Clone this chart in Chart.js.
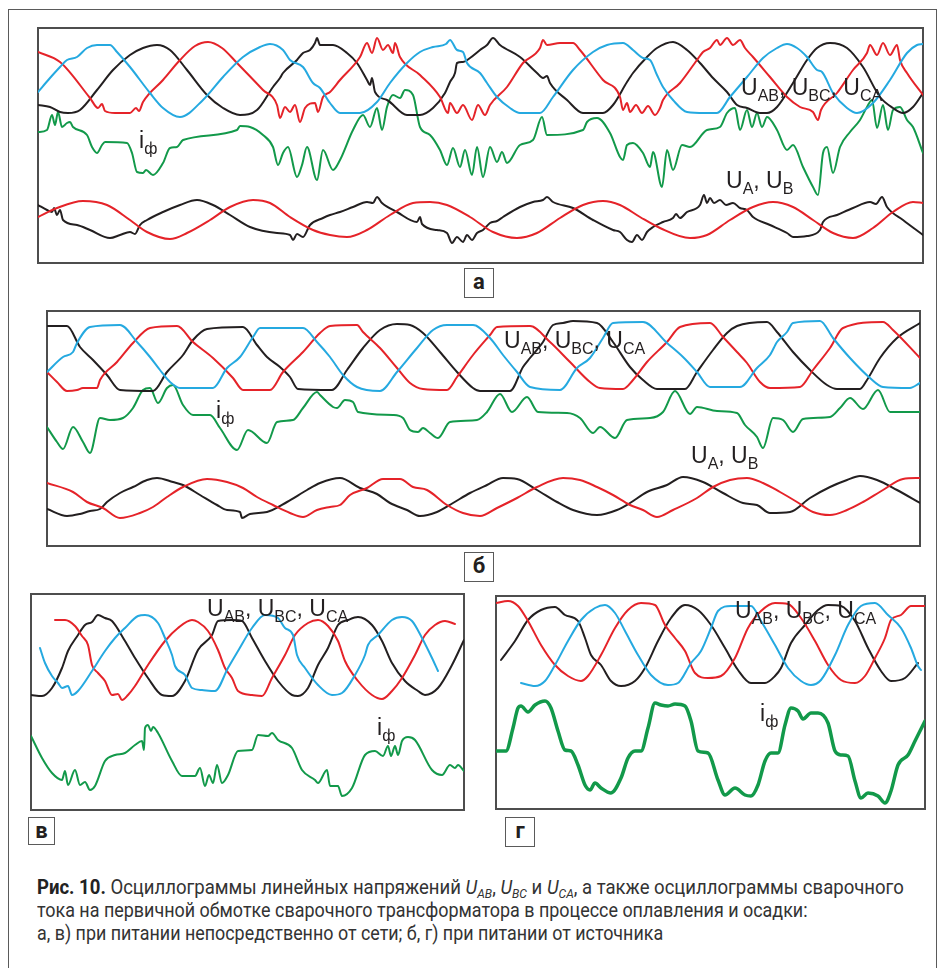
<!DOCTYPE html>
<html>
<head>
<meta charset="utf-8">
<script src="https://cdn.jsdelivr.net/npm/chart.js@4"></script>
<style>
body{margin:0;background:#fff;width:944px;height:968px;position:relative;overflow:hidden;font-family:'Liberation Sans',Arial,sans-serif;}
.frame{position:absolute;left:8px;top:9px;width:929px;height:1000px;border:1.5px solid #5a5a5a;box-sizing:border-box}
.panel{position:absolute;border:2px solid #4d4d4d;box-sizing:border-box}
.panel canvas{position:absolute;left:-1px;top:-1px}
.lbl{position:absolute;font-size:23px;line-height:22px;color:#231f20;white-space:nowrap}
.lbl sub{font-size:16px;vertical-align:-6px;line-height:0}
.tag{position:absolute;width:30px;height:30px;border:1.5px solid #5a5a5a;box-sizing:border-box;font:bold 22px Roboto,sans-serif;line-height:25px;text-align:center;color:#231f20}
.cap{position:absolute;left:37px;font-family:Roboto,sans-serif;font-size:20px;line-height:20px;color:#333;white-space:nowrap;transform-origin:0 0}
.cap b{color:#222}
.cap sub{font-size:13px;vertical-align:-4px;line-height:0}
</style>
</head>
<body>
<div class="frame"></div>

<div class="panel" style="left:37px;top:27px;width:887px;height:237px"><canvas id="pa" width="885" height="235"></canvas></div>
<div class="panel" style="left:46px;top:310px;width:875px;height:237px"><canvas id="pb" width="873" height="235"></canvas></div>
<div class="panel" style="left:30px;top:593px;width:435px;height:218px"><canvas id="pc" width="433" height="216"></canvas></div>
<div class="panel" style="left:495px;top:595px;width:431px;height:215px"><canvas id="pd" width="429" height="213"></canvas></div>

<div class="lbl" style="left:139px;top:129px">i<sub>ф</sub></div>
<div class="lbl" style="left:741px;top:76px">U<sub>AB</sub>, U<sub>BC</sub>, U<sub>CA</sub></div>
<div class="lbl" style="left:726px;top:169px">U<sub>A</sub>, U<sub>B</sub></div>

<div class="lbl" style="left:216px;top:399px">i<sub>ф</sub></div>
<div class="lbl" style="left:504px;top:329px">U<sub>AB</sub>, U<sub>BC</sub>, U<sub>CA</sub></div>
<div class="lbl" style="left:691px;top:444px">U<sub>A</sub>, U<sub>B</sub></div>

<div class="lbl" style="left:207px;top:597px">U<sub>AB</sub>, U<sub>BC</sub>, U<sub>CA</sub></div>
<div class="lbl" style="left:377px;top:716px">i<sub>ф</sub></div>

<div class="lbl" style="left:735px;top:599px">U<sub>AB</sub>, U<sub>BC</sub>, U<sub>CA</sub></div>
<div class="lbl" style="left:760px;top:702px">i<sub>ф</sub></div>

<div class="tag" style="left:464px;top:268px">а</div>
<div class="tag" style="left:464px;top:552px">б</div>
<div class="tag" style="left:28px;top:817px;width:27px;height:28px">в</div>
<div class="tag" style="left:505px;top:817px">г</div>

<div class="cap" data-w="867" style="top:877px"><b>Рис. 10.</b> Осциллограммы линейных напряжений <i>U<sub>AB</sub></i>, <i>U<sub>BC</sub></i> и <i>U<sub>CA</sub></i>, а также осциллограммы сварочного</div>
<div class="cap" data-w="771" style="top:900px">тока на первичной обмотке сварочного трансформатора в процессе оплавления и осадки:</div>
<div class="cap" data-w="626" style="top:923px">а, в) при питании непосредственно от сети; б, г) при питании от источника</div>

<script>
// colours of the oscilloscope traces
const RED = '#e52329', BLUE = '#25a9e0', BLACK = '#231f20', GREEN = '#12994a';

// panel а : time (sample) , level  -- pairs t,v
const aLineRed = [0,211, 22,201, 52,165, 60,155, 64,159, 67,152, 77,150, 92,150, 98,155, 101,152, 105,161, 125,183, 142,203, 157,217, 170,221, 184,215, 199,200, 225,173, 239,158, 242,145, 247,156, 252,151, 257,158, 262,141, 267,155, 277,160, 280,151, 285,166, 292,171, 302,183, 322,206, 329,220, 334,210, 339,225, 345,213, 350,218, 355,210, 357,220, 362,206, 382,188, 402,166, 410,150, 412,160, 419,150, 425,158, 434,143, 440,158, 447,148, 452,158, 469,176, 485,200, 502,215, 505,223, 509,218, 522,220, 535,220, 542,213, 565,183, 582,166, 585,153, 589,160, 592,151, 598,158, 604,150, 610,157, 617,148, 622,155, 625,163, 642,180, 659,203, 665,211, 672,215, 679,223, 682,218, 689,225, 695,218, 702,223, 707,215, 715,206, 732,186, 749,166, 762,156, 775,151, 780,143, 783,153, 799,170, 815,193, 829,210, 832,218, 839,208, 845,220, 852,208, 859,218, 862,203, 869,190, 885,168];
const aLineBlue = [0,171, 12,185, 22,196, 29,203, 39,206, 49,215, 59,218, 72,218, 79,211, 92,196, 112,170, 125,155, 142,146, 165,163, 185,186, 205,206, 222,216, 232,219, 245,213, 252,203, 265,196, 275,180, 282,175, 292,160, 302,150, 322,150, 339,161, 352,180, 369,200, 382,211, 395,216, 408,219, 412,223, 419,213, 425,211, 429,200, 442,190, 449,180, 459,166, 472,155, 482,150, 502,150, 515,166, 535,193, 555,211, 569,218, 585,220, 595,213, 605,205, 612,203, 619,188, 625,176, 635,163, 649,151, 667,150, 679,150, 692,166, 709,186, 725,205, 739,215, 749,219, 759,215, 769,206, 779,193, 784,191, 795,170, 809,155, 819,150, 835,160, 852,183, 869,210, 879,218, 885,219];
const aLineBlack = [0,158, 12,156, 22,151, 30,150, 42,153, 59,173, 75,193, 92,208, 105,215, 119,218, 132,213, 149,193, 169,168, 185,155, 202,148, 219,153, 235,176, 242,185, 245,190, 259,203, 265,210, 272,213, 277,220, 279,225, 282,218, 295,218, 309,210, 319,200, 329,183, 332,178, 334,185, 337,171, 349,163, 369,148, 382,148, 395,155, 407,170, 412,181, 417,190, 419,200, 425,201, 432,205, 442,213, 449,218, 455,225, 462,218, 482,206, 499,190, 505,185, 509,187, 512,180, 529,163, 545,150, 565,150, 575,158, 589,181, 595,190, 609,206, 619,215, 635,221, 649,213, 662,200, 675,185, 689,171, 699,158, 709,155, 722,150, 729,150, 739,156, 755,180, 769,203, 779,215, 792,220, 809,215, 825,196, 842,166, 855,155, 865,150, 875,156, 885,170];
const aCurrent = [0,131, 9,133, 14,148, 17,138, 20,151, 24,136, 29,140, 32,141, 35,136, 49,128, 54,116, 59,110, 64,118, 67,121, 89,120, 94,110, 99,91, 105,90, 108,93, 115,88, 125,100, 132,115, 139,116, 145,123, 199,133, 202,137, 212,136, 225,128, 235,116, 240,98, 245,110, 250,116, 259,86, 264,98, 269,116, 279,83, 285,113, 295,93, 302,103, 315,133, 325,148, 332,136, 339,155, 344,133, 349,156, 355,168, 362,165, 367,173, 375,168, 382,136, 392,128, 402,113, 409,98, 415,115, 422,96, 427,113, 434,88, 439,116, 445,86, 452,116, 459,101, 464,111, 469,100, 482,118, 495,123, 504,146, 509,128, 545,133, 549,141, 559,145, 572,130, 582,106, 585,103, 589,118, 595,120, 605,110, 612,96, 615,111, 624,76, 629,113, 635,93, 644,118, 652,116, 669,133, 682,136, 689,150, 697,155, 702,133, 709,153, 714,136, 719,150, 724,136, 729,146, 739,133, 749,113, 755,118, 765,96, 775,76, 780,68, 785,110, 789,116, 795,90, 802,116, 812,131, 822,143, 829,156, 834,163, 839,135, 845,158, 850,133, 855,153, 862,156, 869,143, 875,136, 885,110];
const aPhaseRed = [0,46, 19,55, 45,62, 69,58, 92,43, 109,31, 132,24, 149,30, 172,43, 192,56, 215,63, 232,60, 252,46, 275,33, 292,28, 309,26, 329,33, 352,48, 375,60, 392,61, 409,58, 432,46, 455,31, 479,25, 499,30, 522,45, 545,58, 565,62, 582,58, 602,46, 622,35, 652,25, 669,28, 692,43, 715,56, 735,61, 755,56, 775,43, 795,30, 815,25, 835,35, 855,51, 875,61, 885,60];
const aPhaseBlack = [0,58, 9,53, 14,51, 16,55, 19,48, 22,53, 25,43, 39,38, 52,33, 72,25, 82,28, 92,31, 97,29, 102,38, 109,43, 125,51, 142,58, 159,63, 175,58, 192,48, 212,36, 239,30, 252,28, 255,23, 259,29, 265,26, 272,38, 285,45, 292,48, 302,51, 315,56, 329,61, 335,60, 339,66, 344,60, 359,51, 379,41, 382,46, 384,39, 399,33, 409,30, 414,20, 419,26, 425,21, 429,28, 434,23, 439,30, 445,33, 452,40, 459,42, 465,46, 482,56, 495,61, 505,63, 509,66, 515,61, 535,55, 555,43, 575,33, 582,31, 589,23, 594,21, 599,28, 604,23, 609,31, 615,36, 625,41, 635,45, 638,49, 642,45, 649,51, 662,58, 666,68, 669,60, 672,65, 676,60, 682,63, 688,58, 695,60, 702,55, 709,53, 715,46, 732,38, 749,30, 755,26, 769,27, 782,33, 785,41, 799,48, 815,55, 832,61, 838,59, 844,66, 849,56, 865,43, 885,28];

// panel б
const bLineBlack = [0,220, 20,220, 33,199, 46,186, 60,171, 73,156, 106,155, 120,174, 136,191, 146,206, 160,217, 196,219, 210,201, 220,189, 233,179, 243,169, 251,157, 285,156, 300,176, 316,198, 333,216, 350,222, 363,221, 376,213, 393,194, 410,174, 426,158, 433,155, 463,155, 476,179, 483,188, 496,204, 506,221, 516,223, 526,225, 550,223, 566,204, 583,179, 596,166, 610,157, 638,157, 650,174, 666,196, 680,213, 690,220, 720,224, 730,214, 746,194, 763,176, 780,161, 790,157, 813,157, 820,166, 833,188, 850,208, 873,223];
const bLineRed = [0,174, 10,164, 20,155, 30,156, 36,158, 50,158, 53,166, 70,184, 86,203, 103,218, 130,220, 146,204, 166,188, 186,168, 196,156, 223,156, 236,174, 256,194, 273,213, 283,220, 310,221, 316,214, 333,198, 350,178, 363,163, 376,157, 400,156, 410,169, 426,191, 443,211, 450,219, 483,220, 503,204, 523,184, 543,164, 553,158, 576,157, 586,166, 600,184, 620,204, 633,219, 663,223, 676,209, 690,194, 700,183, 713,164, 723,158, 753,159, 766,176, 783,198, 796,218, 836,224, 846,216, 873,188];
const bLineBlue = [0,174, 16,189, 26,194, 30,203, 43,219, 73,221, 90,204, 103,189, 113,176, 123,164, 133,158, 166,158, 180,178, 193,189, 206,209, 213,218, 256,218, 270,204, 283,189, 296,171, 310,159, 333,155, 350,174, 370,198, 386,216, 400,221, 426,221, 443,208, 456,191, 470,174, 483,159, 513,156, 530,178, 543,188, 556,208, 566,223, 596,224, 620,203, 636,189, 650,174, 663,159, 693,159, 710,178, 723,191, 730,204, 740,214, 746,223, 773,225, 786,208, 803,188, 823,168, 836,159, 863,158, 873,163];
const bCurrent = [0,119, 10,104, 16,97, 26,119, 36,104, 43,93, 53,128, 63,126, 76,128, 86,138, 96,156, 103,158, 111,143, 120,158, 126,161, 136,141, 146,131, 163,131, 173,118, 190,96, 201,116, 220,103, 230,124, 246,126, 256,138, 270,154, 273,151, 286,139, 290,138, 298,146, 306,144, 311,134, 346,131, 356,128, 363,116, 371,114, 376,118, 383,113, 391,108, 403,124, 430,126, 440,134, 453,152, 465,134, 480,149, 491,134, 520,133, 533,128, 546,113, 553,119, 568,108, 580,126, 603,128, 616,134, 628,155, 643,132, 650,139, 670,135, 690,133, 698,121, 710,109, 716,98, 726,128, 736,126, 746,114, 756,127, 783,129, 793,138, 803,148, 816,137, 831,156, 843,134, 873,134];
const bPhaseRed = [0,63, 26,54, 40,44, 56,38, 73,28, 93,33, 106,39, 120,49, 136,59, 160,67, 180,64, 196,58, 210,49, 226,41, 243,33, 256,29, 270,36, 283,39, 293,41, 303,51, 320,58, 336,67, 353,67, 366,59, 380,56, 400,41, 416,33, 433,30, 450,38, 470,48, 490,59, 516,68, 533,66, 550,59, 566,51, 583,41, 596,36, 610,29, 626,36, 650,48, 666,59, 683,66, 700,68, 716,63, 733,54, 750,44, 766,34, 783,31, 800,36, 816,44, 836,56, 856,67, 873,68];
const bPhaseBlack = [0,37, 20,30, 33,32, 43,35, 53,37, 60,44, 73,53, 86,59, 100,66, 110,68, 126,64, 136,61, 153,51, 170,41, 180,36, 193,34, 195,28, 203,32, 220,34, 240,44, 260,56, 273,63, 293,68, 313,58, 330,52, 343,43, 360,36, 373,30, 390,34, 406,43, 423,53, 440,61, 456,68, 470,67, 490,56, 510,44, 526,36, 550,31, 570,36, 583,43, 600,54, 620,61, 636,69, 656,64, 676,53, 696,43, 710,41, 723,33, 743,34, 763,48, 783,59, 800,66, 813,70, 830,66, 850,56, 873,43];

// panel в
const cLineBlue = [9,162, 14,147, 21,134, 27,127, 31,122, 37,124, 41,115, 47,119, 61,139, 74,159, 84,172, 94,182, 107,194, 114,195, 127,187, 134,172, 141,155, 144,144, 154,135, 161,122, 171,120, 184,119, 197,142, 207,159, 221,182, 234,195, 247,192, 254,182, 262,175, 266,155, 274,142, 287,125, 301,115, 311,117, 324,135, 334,155, 337,165, 347,175, 361,190, 371,193, 381,189, 391,172, 401,152, 407,139];
const cLineRed = [24,190, 34,190, 44,184, 51,174, 57,165, 61,145, 67,137, 74,129, 81,115, 87,116, 91,110, 97,115, 104,124, 117,145, 134,169, 147,182, 161,190, 167,188, 177,179, 187,160, 194,142, 201,132, 207,119, 221,115, 231,114, 241,132, 254,155, 264,175, 277,187, 287,190, 297,184, 307,169, 314,149, 327,129, 341,115, 351,111, 361,119, 371,132, 384,155, 394,175, 404,185, 414,189, 424,186];
const cLineBlack = [0,115, 11,114, 21,122, 31,142, 37,159, 47,175, 54,185, 61,188, 67,195, 74,192, 81,189, 94,169, 104,152, 117,132, 131,115, 141,114, 154,129, 167,160, 181,175, 187,189, 201,190, 211,189, 221,172, 234,149, 247,129, 261,115, 267,114, 277,122, 287,145, 297,162, 307,185, 317,190, 327,193, 341,185, 351,169, 361,147, 374,129, 387,119, 394,115, 407,122, 421,145, 433,170];
const cCurrent = [0,74, 11,52, 21,37, 31,30, 34,39, 37,25, 44,40, 49,25, 54,28, 59,20, 64,24, 74,49, 84,55, 94,57, 104,65, 111,69, 113,60, 114,82, 117,85, 120,79, 122,83, 127,77, 141,49, 151,34, 164,34, 169,42, 174,24, 178,35, 182,27, 186,45, 191,27, 197,35, 207,59, 221,60, 227,75, 237,74, 241,77, 247,70, 261,62, 271,40, 284,30, 287,27, 296,40, 299,24, 307,24, 311,14, 321,22, 334,55, 344,59, 352,54, 357,64, 360,54, 364,64, 367,55, 371,69, 377,73, 384,70, 401,40, 411,35, 419,45, 424,42, 427,45, 433,39];

// panel г
const dLineRed = [0,206, 12,208, 22,203, 32,188, 45,164, 59,144, 72,133, 85,128, 92,133, 105,154, 119,181, 132,199, 145,206, 159,204, 169,184, 179,171, 189,158, 199,136, 212,131, 225,133, 239,151, 252,181, 265,198, 279,206, 292,205, 305,191, 319,168, 332,144, 345,129, 359,126, 369,133, 379,151, 389,171, 395,189, 405,194, 415,203, 429,203];
const dLineBlue = [25,126, 39,123, 49,128, 59,144, 72,168, 85,189, 99,201, 109,204, 119,196, 129,178, 142,154, 155,134, 172,124, 182,126, 195,146, 205,158, 215,181, 222,198, 235,203, 255,203, 265,188, 279,164, 292,141, 305,128, 315,124, 325,129, 339,154, 352,184, 365,203, 379,206, 392,194, 405,181, 415,161, 422,143, 425,139];
const dLineBlack = [5,149, 19,168, 32,189, 45,199, 59,202, 69,194, 82,188, 89,171, 95,154, 105,144, 115,128, 125,123, 139,128, 149,141, 162,168, 175,191, 189,204, 202,199, 215,184, 229,161, 242,139, 255,126, 269,126, 279,133, 285,141, 295,166, 309,184, 322,199, 332,204, 345,203, 359,188, 372,161, 385,138, 395,128, 409,131, 422,146];
const dCurrent = [0,58, 10,58, 17,81, 22,101, 25,103, 32,97, 39,104, 49,108, 55,101, 62,78, 69,59, 75,58, 82,44, 89,24, 94,19, 99,26, 105,21, 115,16, 125,31, 132,51, 139,58, 145,58, 152,81, 159,106, 165,104, 172,103, 179,105, 189,103, 195,88, 202,58, 212,56, 222,29, 229,14, 239,21, 249,14, 255,13, 262,24, 269,48, 275,56, 282,56, 289,84, 295,101, 302,98, 307,90, 315,96, 322,96, 332,86, 339,58, 345,54, 352,53, 359,28, 365,11, 372,16, 382,13, 389,6, 395,18, 402,44, 412,54, 419,68, 429,88];

function toPts(arr) {
    let pts = [];
    for (let i = 0; i < arr.length; i += 2) pts.push({x: arr[i], y: arr[i + 1]});
    return pts;
}

function makePanel(id, W, H, traces) {
    let ctx = document.getElementById(id);
    return new Chart(ctx, {
        type: 'scatter',
        data: {
            datasets: traces.map(t => ({
                data: toPts(t[0]),
                borderColor: t[1],
                borderWidth: t[2] || 2,
                showLine: true,
                pointRadius: 0,
                fill: false,
                cubicInterpolationMode: 'monotone',
                borderJoinStyle: 'round',
                borderCapStyle: 'round'
            }))
        },
        options: {
            responsive: false,
            animation: false,
            devicePixelRatio: 1,
            events: [],
            layout: { padding: 0 },
            plugins: { legend: { display: false }, tooltip: { enabled: false } },
            scales: {
                x: { type: 'linear', min: 0, max: W, display: false },
                y: { type: 'linear', min: 0, max: H, display: false }
            }
        }
    });
}

makePanel('pa', 885, 235, [
    [aLineBlue, BLUE], [aLineRed, RED], [aLineBlack, BLACK], [aCurrent, GREEN],
    [aPhaseRed, RED], [aPhaseBlack, BLACK]
]);
makePanel('pb', 873, 235, [
    [bLineBlue, BLUE], [bLineRed, RED], [bLineBlack, BLACK], [bCurrent, GREEN],
    [bPhaseRed, RED], [bPhaseBlack, BLACK]
]);
makePanel('pc', 433, 216, [
    [cLineBlue, BLUE], [cLineRed, RED], [cLineBlack, BLACK], [cCurrent, GREEN]
]);
makePanel('pd', 429, 213, [
    [dLineBlue, BLUE], [dLineRed, RED], [dLineBlack, BLACK], [dCurrent, GREEN, 3.5]
]);

// squeeze caption lines to the width of the original (condensed) typeface
function fitCaption() {
    document.querySelectorAll('.cap').forEach(el => {
        el.style.transform = 'none';
        let w = el.scrollWidth;
        el.style.transform = 'scaleX(' + (Number(el.dataset.w) / w) + ')';
    });
}
fitCaption();
if (document.fonts) document.fonts.ready.then(fitCaption);
</script>
</body>
</html>
